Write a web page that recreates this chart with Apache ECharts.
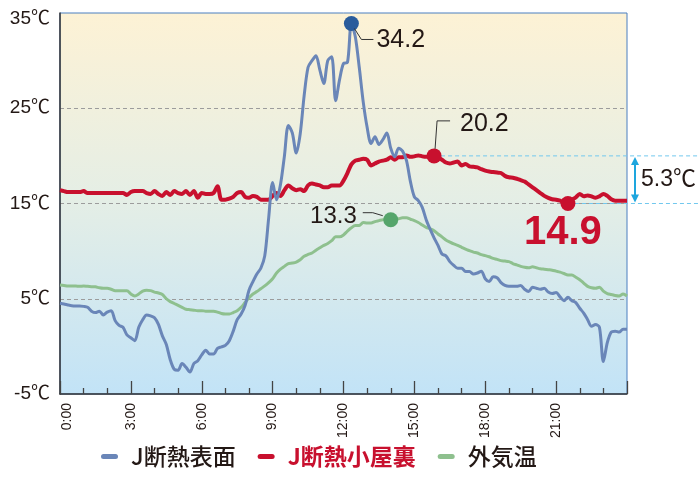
<!DOCTYPE html>
<html><head><meta charset="utf-8">
<script src="https://cdn.jsdelivr.net/npm/echarts@6/dist/echarts.min.js"></script>
<style>html,body{margin:0;padding:0;background:#fff}#c{width:700px;height:490px}</style>
</head><body><div id="c"></div>
<script>
// ---- data (10-minute samples, 0:00 .. 24:00) ----
const seriesNames = ['J断熱表面', 'J断熱小屋裏', '外気温'];
const xTickLabels = ['0:00', '3:00', '6:00', '9:00', '12:00', '15:00', '18:00', '21:00'];
const yTickValues = [-5, 5, 15, 25, 35];
const stepMinutes = 10;

const surface = [
  4.52,4.45,4.35,4.27,4.25,4.25,4.2,4.1,3.7,3.55,3.7,3.3,
  3.6,3.75,2.7,2.2,2.0,1.2,0.9,0.6,2.0,2.8,3.3,3.2,
  3.0,2.3,1.1,0.2,-1.4,-2.4,-2.5,-1.8,-2.2,-2.7,-1.8,-1.5,
  -0.9,-0.4,-0.8,-0.8,-0.2,-0.05,0.1,0.6,1.6,2.8,3.4,4.3,
  5.9,6.8,7.6,8.2,9.5,13.5,17.2,15.4,17.0,20.0,23.2,22.4,
  20.3,22.3,26.3,29.3,30.0,30.5,29.0,27.6,30.0,30.4,25.8,28.0,
  29.7,29.8,33.9,32.5,29.3,25.7,23.0,21.3,22.0,21.2,21.7,22.4,
  20.8,19.9,20.8,20.5,19.5,17.3,15.7,15.3,14.6,13.3,12.3,11.4,
  10.6,9.7,9.5,8.9,8.5,8.2,8.2,7.85,7.85,7.6,7.7,7.9,
  7.1,6.8,7.3,7.2,6.7,6.4,6.3,6.3,6.3,6.4,6.0,5.75,
  6.2,6.1,6.0,6.1,5.7,5.55,5.65,5.2,4.8,5.15,4.8,4.6,
  4.0,3.5,2.8,2.1,2.3,2.0,-1.6,0.4,1.5,1.6,1.5,1.8,
  1.8
];
const attic = [
  16.4,16.3,16.2,16.2,16.2,16.2,16.3,16.1,16.1,16.1,16.1,16.1,
  16.1,16.1,16.1,16.1,16.1,15.9,16.2,16.3,16.3,16.3,16.1,16.0,
  16.3,16.0,15.8,16.2,15.9,16.3,16.1,16.0,16.3,15.9,16.3,15.6,
  16.1,16.0,16.0,16.1,16.8,15.4,15.4,15.5,15.7,16.1,16.2,15.7,
  15.6,15.8,15.7,15.4,15.4,15.4,15.8,16.1,15.8,16.4,16.9,16.6,
  16.4,16.5,16.3,16.9,17.1,17.0,16.9,16.7,16.7,16.9,16.9,16.9,
  17.4,18.2,19.1,19.5,19.6,19.7,19.6,19.0,19.2,19.4,19.5,19.6,
  19.85,19.6,19.85,19.85,20.05,19.9,19.95,20.05,19.95,19.9,20.0,20.0,
  19.8,19.6,19.3,19.2,19.3,19.4,19.0,19.15,18.9,18.85,18.8,18.6,
  18.45,18.35,18.3,18.25,18.2,17.9,17.75,17.7,17.6,17.45,17.3,17.0,
  16.7,16.4,16.1,15.8,15.6,15.45,15.4,15.3,15.1,15.0,15.4,15.65,
  16.0,15.75,15.85,15.75,15.6,15.75,16.0,15.8,15.45,15.3,15.3,15.3,
  15.3
];
const outdoor = [
  6.44,6.4,6.34,6.34,6.34,6.3,6.34,6.3,6.27,6.25,6.15,6.1,
  6.1,6.0,5.85,5.85,5.85,5.85,5.5,5.3,5.5,5.8,5.9,5.85,
  5.7,5.6,5.45,5.0,4.7,4.5,4.3,4.1,3.9,3.85,3.8,3.75,
  3.75,3.7,3.7,3.7,3.6,3.45,3.4,3.4,3.55,3.75,4.1,4.6,
  5.1,5.5,5.75,6.05,6.35,6.7,7.1,7.7,8.1,8.4,8.7,8.75,
  8.85,9.1,9.45,9.65,9.8,10.1,10.35,10.6,10.8,11.1,11.5,11.5,
  11.7,12.1,12.45,12.7,12.7,13.0,12.95,12.95,13.1,13.2,13.3,13.3,
  13.3,13.35,13.4,13.5,13.5,13.35,13.2,13.0,12.75,12.5,12.35,12.15,
  11.8,11.5,11.17,10.95,10.75,10.6,10.4,10.2,10.05,9.9,9.8,9.63,
  9.53,9.41,9.24,9.13,9.0,8.96,8.9,8.7,8.55,8.4,8.3,8.25,
  8.35,8.25,8.15,8.1,8.05,8.0,7.9,7.8,7.65,7.5,7.5,7.25,
  7.0,6.65,6.3,6.15,6.1,6.2,5.8,5.55,5.45,5.35,5.3,5.5,
  5.3
];
// highlighted samples (index into the arrays) and their printed labels
const markIndex = { surfaceMax: 74, atticMax: 95, atticMin: 129, outdoorMax: 84 };
const markText = { surfaceMax: '34.2', atticMax: '20.2', atticMin: '14.9', outdoorMax: '13.3' };
const diffText = '5.3℃';

// ---- chart ----
const times = surface.map((_, i) => i * stepMinutes / 60);
const pair = arr => arr.map((v, i) => [times[i], v]);
const C = { blue: '#6a86b8', red: '#c8102e', green: '#8ec08e', ink: '#231815',
            blueDot: '#2a5c9c', greenDot: '#55a56b', cyan: '#1ea6de', cyanDash: '#72c8ee' };
const numFont = '"Liberation Sans", "Noto Sans CJK JP", sans-serif';
const jpFont = '"Noto Sans CJK JP", sans-serif';
const legendIcon = 'path://M2.5,0 H14.5 A2.5,2.5 0 0 1 14.5,5 H2.5 A2.5,2.5 0 0 1 2.5,0 Z';

const chart = echarts.init(document.getElementById('c'), null, { renderer: 'canvas' });
const option = {
  animation: false,
  grid: {
    left: 60, right: 73, top: 13, bottom: 96, show: true,
    backgroundColor: new echarts.graphic.LinearGradient(0, 0, 0, 1, [
      { offset: 0, color: '#fdf2d5' }, { offset: 0.5, color: '#e4eee6' }, { offset: 1, color: '#c2e3f7' }
    ]),
    borderColor: '#4a7ec0', borderWidth: 1
  },
  legend: {
    top: 440, left: 96, itemWidth: 17, itemHeight: 5, itemGap: 22, icon: legendIcon,
    textStyle: { fontFamily: jpFont, fontSize: 23, color: C.ink, padding: [0, 0, 0, 8] },
    data: [
      { name: seriesNames[0], textStyle: { color: C.ink, fontWeight: 500 } },
      { name: seriesNames[1], textStyle: { color: C.red, fontWeight: 'bold' } },
      { name: seriesNames[2], textStyle: { color: C.ink, fontWeight: 500 } }
    ]
  },
  xAxis: {
    type: 'value', min: 0, max: 24, interval: 3,
    axisLine: { show: true, onZero: false, lineStyle: { color: '#333', width: 1.5 } },
    axisTick: { show: true, inside: true, length: 13, lineStyle: { color: '#444', width: 1.3 } },
    minorTick: { show: true, splitNumber: 3, length: 6, lineStyle: { color: '#444', width: 1.3 } },
    splitLine: { show: false },
    axisLabel: {
      rotate: 90, margin: 9, fontSize: 14, color: C.ink, fontFamily: numFont,
      formatter: v => {
        const k = Math.round(v / 3);
        if (k >= xTickLabels.length) return '';
        return k === 0 ? '{first|' + xTickLabels[k] + '}' : xTickLabels[k];
      },
      rich: { first: { fontSize: 14, fontFamily: numFont, color: C.ink, padding: [14, 0, 0, 0] } }
    }
  },
  yAxis: {
    type: 'value', min: yTickValues[0], max: yTickValues[yTickValues.length - 1], interval: 10,
    axisLine: { show: true, onZero: false, lineStyle: { color: '#333', width: 1.5 } },
    axisTick: { show: false },
    splitLine: { show: true, showMinLine: false, showMaxLine: false, lineStyle: { color: '#9c9c9c', type: [4, 3], width: 1 } },
    axisLabel: {
      margin: 10, fontSize: 19, color: C.ink, fontFamily: numFont,
      formatter: v => v === yTickValues[yTickValues.length - 1] ? '{top|' + v + '℃}' : v + '℃',
      rich: { top: { fontSize: 19, fontFamily: numFont, color: C.ink, padding: [12, 0, 0, 0] } }
    }
  },
  series: [
    { name: seriesNames[2], type: 'line', data: pair(outdoor), showSymbol: false, smooth: 0.3, z: 2,
      lineStyle: { color: C.green, width: 3 }, itemStyle: { color: C.green } },
    { name: seriesNames[1], type: 'line', data: pair(attic), showSymbol: false, smooth: 0.3, z: 3,
      lineStyle: { color: C.red, width: 4 }, itemStyle: { color: C.red } },
    { name: seriesNames[0], type: 'line', data: pair(surface), showSymbol: false, smooth: 0.3, z: 4,
      lineStyle: { color: C.blue, width: 3 }, itemStyle: { color: C.blue } },
    { type: 'scatter', symbolSize: 15, z: 6, silent: true, itemStyle: { opacity: 1 },
      data: [
        { value: [times[markIndex.surfaceMax], surface[markIndex.surfaceMax]], itemStyle: { color: C.blueDot, opacity: 1 } },
        { value: [times[markIndex.atticMax], attic[markIndex.atticMax]], itemStyle: { color: C.red, opacity: 1 } },
        { value: [times[markIndex.atticMin], attic[markIndex.atticMin]], itemStyle: { color: C.red, opacity: 1 } },
        { value: [times[markIndex.outdoorMax], outdoor[markIndex.outdoorMax]], itemStyle: { color: C.greenDot, opacity: 1 } }
      ] }
  ]
};
chart.setOption(option);

const px = (arr, i) => chart.convertToPixel({ gridIndex: 0 }, [times[i], arr[i]]);
const pb = px(surface, markIndex.surfaceMax);
const ph = px(attic, markIndex.atticMax);
const pl = px(attic, markIndex.atticMin);
const pg = px(outdoor, markIndex.outdoorMax);
const W = chart.getWidth();
const gridRight = W - 73;
const leader = { stroke: '#333', lineWidth: 1, fill: null };
const numText = (x, y, text, extra) => ({ type: 'text', z: 10, style: Object.assign({
  x, y, text, font: '25px ' + numFont, fill: C.ink, verticalAlign: 'middle', align: 'left' }, extra || {}) });
const ax = gridRight + 8;

chart.setOption({ graphic: [
  { type: 'line', z: 5, shape: { x1: ph[0] + 7, y1: ph[1], x2: W, y2: ph[1] }, style: { stroke: C.cyanDash, lineWidth: 1, lineDash: [4, 3] } },
  { type: 'line', z: 5, shape: { x1: pl[0] + 7, y1: pl[1], x2: W, y2: pl[1] }, style: { stroke: C.cyanDash, lineWidth: 1, lineDash: [4, 3] } },
  { type: 'polyline', z: 10, shape: { points: [[pb[0] + 3, pb[1] + 5], [pb[0] + 10, pb[1] + 16], [pb[0] + 22, pb[1] + 16]] }, style: leader },
  numText(pb[0] + 25, pb[1] + 17, markText.surfaceMax),
  { type: 'polyline', z: 10, shape: { points: [[ph[0] + 1, ph[1] - 7], [ph[0] + 3, ph[1] - 35], [ph[0] + 16, ph[1] - 35]] }, style: leader },
  numText(ph[0] + 26, ph[1] - 32, markText.atticMax),
  { type: 'polyline', z: 10, shape: { points: [[pg[0] - 8, pg[1] - 4], [pg[0] - 18, pg[1] - 7], [pg[0] - 28, pg[1] - 7]] }, style: leader },
  numText(pg[0] - 34, pg[1] - 3, markText.outdoorMax, { align: 'right', font: '24px ' + numFont }),
  numText(pl[0] - 5, pl[1] + 29, markText.atticMin, { align: 'center', font: 'bold 40px ' + numFont, fill: C.red }),
  { type: 'line', z: 10, shape: { x1: ax, y1: ph[1] + 5, x2: ax, y2: pl[1] - 5 }, style: { stroke: C.cyan, lineWidth: 2 } },
  { type: 'polygon', z: 10, shape: { points: [[ax - 4, ph[1] + 9], [ax, ph[1] + 1], [ax + 4, ph[1] + 9]] }, style: { fill: C.cyan } },
  { type: 'polygon', z: 10, shape: { points: [[ax - 4, pl[1] - 9], [ax, pl[1] - 1], [ax + 4, pl[1] - 9]] }, style: { fill: C.cyan } },
  numText(ax + 6, (ph[1] + pl[1]) / 2, diffText, { font: '23px ' + numFont })
] });
</script>
</body></html>
